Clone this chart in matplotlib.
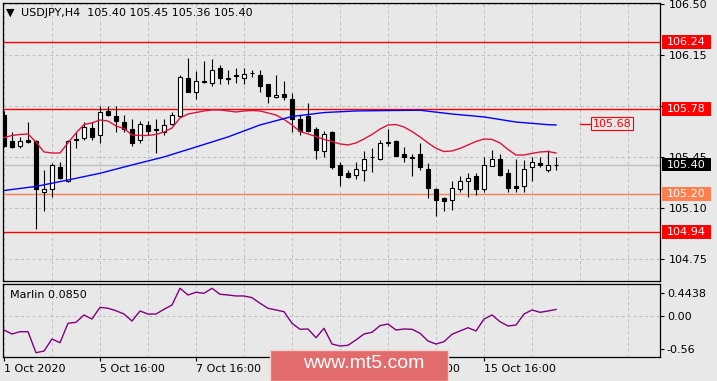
import matplotlib
matplotlib.use('Agg')
import matplotlib.pyplot as plt
import matplotlib.transforms as mtransforms
from matplotlib.patches import Rectangle

bg = '#E8E8E8'
labelFont = 8
W, H = 717.0, 381.0

# USDJPY H4 candles, oldest first
opens = [105.74, 105.56, 105.53, 105.565, 105.56, 105.21, 105.23, 105.38, 105.29, 105.572,
         105.58, 105.65, 105.60, 105.77, 105.73, 105.69, 105.64, 105.57, 105.67, 105.64,
         105.62, 105.68, 105.73, 105.99, 105.90, 105.97, 105.96, 106.06, 105.99, 106.01,
         105.99, 106.03, 106.01, 105.95, 105.86, 105.88, 105.85, 105.71, 105.73, 105.64,
         105.49, 105.62, 105.40, 105.34, 105.33, 105.36, 105.45, 105.44, 105.55, 105.56,
         105.47, 105.45, 105.47, 105.37, 105.23, 105.17, 105.16, 105.23, 105.29, 105.32,
         105.23, 105.39, 105.44, 105.34, 105.25, 105.25, 105.38, 105.41, 105.36, 105.40]
highs = [105.77, 105.62, 105.59, 105.69, 105.57, 105.36, 105.41, 105.42, 105.57, 105.62,
         105.69, 105.69, 105.80, 105.80, 105.80, 105.74, 105.71, 105.70, 105.70, 105.71,
         105.71, 105.76, 106.01, 106.13, 106.04, 106.11, 106.12, 106.08, 106.05, 106.06,
         106.06, 106.05, 106.05, 105.95, 106.01, 105.97, 105.89, 105.74, 105.82, 105.66,
         105.63, 105.63, 105.42, 105.36, 105.42, 105.49, 105.51, 105.57, 105.64, 105.57,
         105.52, 105.47, 105.55, 105.41, 105.24, 105.18, 105.29, 105.32, 105.34, 105.34,
         105.45, 105.50, 105.47, 105.37, 105.44, 105.43, 105.45, 105.45, 105.50, 105.45]
lows = [105.52, 105.51, 105.51, 105.55, 104.96, 105.08, 105.18, 105.30, 105.28, 105.51,
        105.57, 105.57, 105.55, 105.735, 105.62, 105.62, 105.53, 105.55, 105.60, 105.48,
        105.60, 105.67, 105.725, 105.895, 105.85, 105.96, 105.94, 105.95, 105.95, 105.96,
        105.95, 106.00, 105.90, 105.82, 105.857, 105.84, 105.62, 105.60, 105.62, 105.44,
        105.45, 105.37, 105.25, 105.305, 105.30, 105.29, 105.35, 105.43, 105.53, 105.458,
        105.42, 105.32, 105.36, 105.17, 105.05, 105.08, 105.09, 105.21, 105.18, 105.19,
        105.21, 105.388, 105.32, 105.21, 105.21, 105.21, 105.29, 105.38, 105.35, 105.36]
closes = [105.53, 105.52, 105.56, 105.553, 105.23, 105.23, 105.40, 105.31, 105.56, 105.567,
          105.66, 105.59, 105.76, 105.74, 105.70, 105.64, 105.55, 105.68, 105.63, 105.635,
          105.67, 105.74, 106.00, 105.90, 105.97, 105.967, 106.05, 105.99, 105.985, 106.005,
          106.02, 106.027, 105.94, 105.87, 105.877, 105.86, 105.71, 105.63, 105.63, 105.50,
          105.61, 105.38, 105.33, 105.312, 105.37, 105.44, 105.452, 105.55, 105.552, 105.46,
          105.45, 105.448, 105.38, 105.24, 105.16, 105.15, 105.24, 105.29, 105.31, 105.23,
          105.40, 105.44, 105.33, 105.24, 105.24, 105.37, 105.42, 105.40, 105.40, 105.40]

# red smoothed average, one value per bar
red_ma = [105.584, 105.599, 105.606, 105.609, 105.554, 105.486, 105.479, 105.479, 105.548, 105.616,
          105.674, 105.685, 105.705, 105.698, 105.664, 105.647, 105.602, 105.599, 105.599, 105.606,
          105.623, 105.650, 105.719, 105.746, 105.756, 105.767, 105.774, 105.774, 105.767, 105.760,
          105.767, 105.770, 105.767, 105.753, 105.739, 105.709, 105.671, 105.626, 105.609, 105.592,
          105.572, 105.558, 105.541, 105.534, 105.548, 105.575, 105.606, 105.643, 105.671, 105.674,
          105.657, 105.626, 105.589, 105.548, 105.511, 105.489, 105.493, 105.510, 105.534, 105.558,
          105.575, 105.572, 105.548, 105.503, 105.465, 105.465, 105.476, 105.486, 105.489, 105.479]

# blue slow average, read every 4 bars
blue_bars = [0, 4, 8, 12, 16, 20, 24, 28, 32, 36, 40, 44, 48, 52, 56, 60, 64, 68, 69]
blue_ma = [105.222, 105.250, 105.294, 105.340, 105.397, 105.452, 105.520, 105.589, 105.671, 105.729,
           105.756, 105.767, 105.770, 105.772, 105.746, 105.726, 105.691, 105.673, 105.671]

# Marlin oscillator
marlin = [-0.194, -0.248, -0.217, -0.217, -0.502, -0.479, -0.316, -0.366, -0.103, -0.089,
          0.010, -0.045, 0.114, 0.101, 0.068, 0.023, -0.072, 0.064, 0.023, 0.023,
          0.087, 0.145, 0.372, 0.281, 0.318, 0.304, 0.372, 0.291, 0.281, 0.268,
          0.268, 0.245, 0.169, 0.101, 0.078, 0.055, -0.103, -0.184, -0.180, -0.298,
          -0.171, -0.384, -0.411, -0.401, -0.329, -0.248, -0.225, -0.135, -0.112, -0.194,
          -0.180, -0.184, -0.238, -0.343, -0.384, -0.352, -0.252, -0.207, -0.163, -0.207,
          -0.045, 0.010, -0.081, -0.139, -0.126, 0.023, 0.078, 0.046, 0.064, 0.085]

price_ticks = [104.75, 105.10, 105.45, 105.80, 106.15, 106.50]
# 105.80 sits under the 105.78 box, so its text is left blank
price_labels = ['104.75', '105.10', '105.45', '', '106.15', '106.50']
date_ticks = [0, 12, 24, 36, 48, 60]
# the 9 Oct label is fully under the watermark in the source
date_labels = ['1 Oct 2020', '5 Oct 16:00', '7 Oct 16:00', '', '13 Oct 16:00', '15 Oct 16:00']

# horizontal levels: (price, line colour, label box colour)
levels = [(106.24, '#FF0000', '#FF0000'),
          (105.78, '#FF0000', '#FF0000'),
          (105.20, '#FF7F50', '#FF7F50'),
          (104.94, '#FF0000', '#FF0000')]
last_price = 105.40
target_price = 105.68

gridkw = dict(color='#BDBDBD', linestyle=(0, (3, 3)), linewidth=0.7)


def style_axes(ax):
    ax.set_facecolor(bg)
    for s in ax.spines.values():
        s.set_color('black')
        s.set_linewidth(0.9)
    ax.set_xlim(-0.125, 82)


def draw_candles(ax):
    n = len(opens)
    xs = list(range(n))
    ax.vlines(xs, lows, highs, color='black', linewidth=0.8, zorder=3)
    for i in xs:
        o, c = opens[i], closes[i]
        fc = 'white' if c > o else 'black'
        ax.add_patch(Rectangle((i - 0.3, min(o, c)), 0.6, abs(c - o), facecolor=fc,
                               edgecolor='black', linewidth=0.8, zorder=4))
    ax.plot(xs, red_ma, color='#DC143C', linewidth=1.0, zorder=5)
    ax.plot(blue_bars, blue_ma, color='#0000FF', linewidth=1.0, zorder=5)


fig = plt.figure(figsize=(W / 100, H / 100), dpi=100, facecolor=bg)
ax = fig.add_axes([3 / W, 1 - 281 / H, 657 / W, 278.5 / H])
ind = fig.add_axes([3 / W, 1 - 357 / H, 657 / W, 73.5 / H])
style_axes(ax)
style_axes(ind)

# main price panel
ax.set_ylim(104.602, 106.510)
ax.set_yticks(price_ticks)
ax.set_yticklabels(price_labels)
ax.yaxis.tick_right()
ax.tick_params(axis='y', direction='out', length=3, width=0.8, pad=3, labelsize=labelFont)
ax.set_xticks(range(0, 82, 6))
ax.tick_params(axis='x', length=0, labelbottom=False)
ax.grid(True, **gridkw)

for p, lc, bc in levels:
    ax.axhline(p, color=lc, linewidth=1.0, zorder=2)
ax.axhline(last_price, color='#C0C0C0', linewidth=1.0, zorder=2)

draw_candles(ax)

# price label boxes on the right scale
trans = mtransforms.blended_transform_factory(ax.transAxes, ax.transData)
for p, bc in [(l[0], l[2]) for l in levels] + [(last_price, 'black')]:
    ax.add_patch(Rectangle((1.0023, p - 0.047), 0.0753, 0.094, transform=trans,
                           facecolor=bc, edgecolor='none', clip_on=False, zorder=6))
    ax.text(1.0107, p, '%.2f' % p, transform=trans, color='white', fontsize=labelFont,
            va='center', ha='left', zorder=7, clip_on=False)

# right price label object
ax.plot([72, 73.3], [target_price, target_price], color='#FF0000', linewidth=1.0, zorder=5)
ax.text(73.55, target_price, '%.2f' % target_price, color='#FF0000', fontsize=labelFont,
        va='center', ha='left', zorder=6,
        bbox=dict(boxstyle='square,pad=0.15', facecolor='none', edgecolor='#FF0000', linewidth=0.8))

fig.text(6 / W, 1 - 13 / H, u'\u25BC', fontsize=8, va='center', ha='left')
fig.text(21 / W, 1 - 13 / H, 'USDJPY,H4  105.40 105.45 105.36 105.40',
         fontsize=labelFont, va='center', ha='left')

# Marlin panel
ind.plot(range(len(marlin)), marlin, color='#800080', linewidth=1.0, zorder=3)
ind.set_ylim(-0.560, 0.437)
ind.set_yticks([0.308, 0.0, -0.452])
ind.set_yticklabels(['0.4438', '0.00', '-0.56'])
ind.yaxis.tick_right()
ind.tick_params(axis='y', direction='out', length=3, width=0.8, pad=2, labelsize=labelFont)
ind.axhline(0.0, **gridkw)
ind.set_xticks(date_ticks)
ind.set_xticks(range(6, 82, 12), minor=True)
ind.set_xticklabels(date_labels)
for lab in ind.get_xticklabels():
    lab.set_horizontalalignment('left')
ind.tick_params(axis='x', which='major', direction='out', length=3, width=0.8, pad=2, labelsize=labelFont)
ind.tick_params(axis='x', which='minor', length=0)
ind.grid(True, axis='x', which='both', **gridkw)
ind.text(7 / 657, 1 - 12 / 73.5, 'Marlin 0.0850', transform=ind.transAxes,
         fontsize=labelFont, va='center', ha='left')

# site watermark
fig.patches.append(Rectangle((270 / W, 0), 178 / W, 31 / H, transform=fig.transFigure,
                             facecolor='#E26C6C', edgecolor='#F4D0D0', linewidth=1.0, zorder=5))
fig.text(303 / W, 1 - 364 / H, 'www.mt5.com', family='Liberation Sans', fontsize=14,
         color='white', va='center', ha='left', zorder=6)

fig.savefig('out.png', dpi=100, facecolor=bg)
